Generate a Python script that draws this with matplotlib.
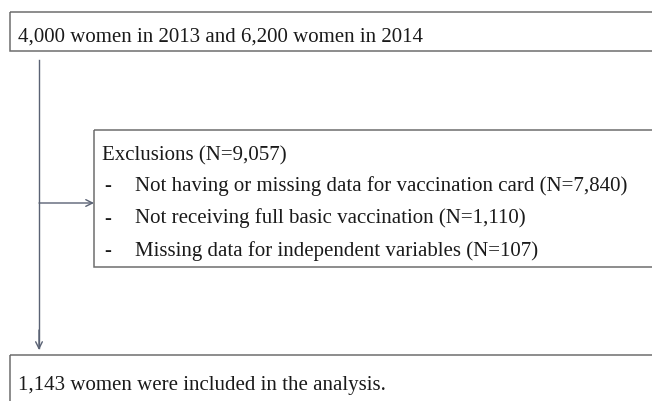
import matplotlib.pyplot as plt
from matplotlib.patches import Rectangle

# flowchart text
top_text = '4,000 women in 2013 and 6,200 women in 2014'
excl_title = 'Exclusions (N=9,057)'
excl_items = ['Not having or missing data for vaccination card (N=7,840)',
              'Not receiving full basic vaccination (N=1,110)',
              'Missing data for independent variables (N=107)']
bottom_text = '1,143 women were included in the analysis.'

W, H = 652, 401
plt.rcParams['font.family'] = ['Liberation Serif', 'DejaVu Serif']

fig = plt.figure(figsize=(W / 100, H / 100), dpi=100)
ax = fig.add_axes([0, 0, 1, 1])
ax.set_xlim(0, W)
ax.set_ylim(H, 0)
ax.axis('off')

box_col = '#6e6e6e'
line_col = '#5a6274'
txt_col = '#1a1a1a'
fs = 15.0

# boxes (right edges run off the image)
for x0, y0, x1, y1 in [(10, 12, 680, 51), (94, 130, 680, 267), (10, 355, 680, 420)]:
    ax.add_patch(Rectangle((x0, y0), x1 - x0, y1 - y0, fill=False,
                           ec=box_col, lw=1.1))

# connectors
ax.plot([39, 39], [60, 348], color=line_col, lw=1.0)
ax.annotate('', xy=(39, 350), xytext=(39, 330),
            arrowprops=dict(arrowstyle='->', color=line_col, lw=1.0,
                            mutation_scale=12, shrinkA=0, shrinkB=0))
ax.annotate('', xy=(94, 203), xytext=(39, 203),
            arrowprops=dict(arrowstyle='->', color=line_col, lw=1.0,
                            mutation_scale=12, shrinkA=0, shrinkB=0))

ax.text(18, 42, top_text, fontsize=fs, va='baseline', ha='left', color=txt_col)
ax.text(102, 160, excl_title, fontsize=fs, va='baseline', ha='left', color=txt_col)
for i, item in enumerate(excl_items):
    y = 191 + i * 32.5
    ax.text(104, y, '-', fontsize=fs, va='baseline', ha='left', color=txt_col)
    ax.text(135, y, item, fontsize=fs, va='baseline', ha='left', color=txt_col)
ax.text(18, 390, bottom_text, fontsize=fs, va='baseline', ha='left', color=txt_col)

fig.savefig('out.png', dpi=100)
